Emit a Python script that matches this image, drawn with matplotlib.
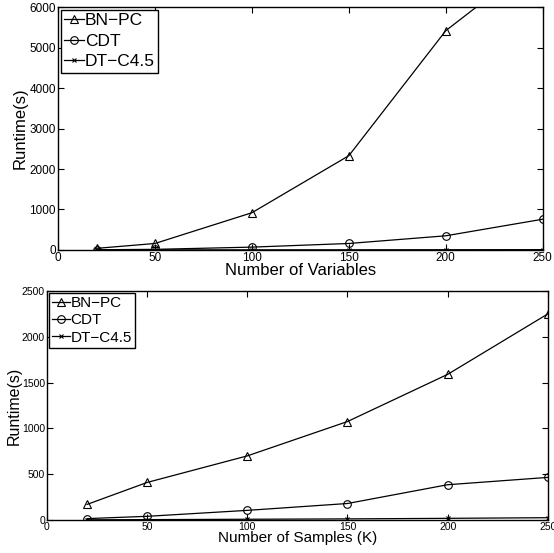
import numpy as np
import matplotlib
matplotlib.use("Agg")
import matplotlib.pyplot as plt

plt.rcParams['font.family'] = ['Liberation Sans', 'DejaVu Sans']

x_vals = [20, 50, 100, 150, 200, 250]

# top: runtime vs number of variables
var_bnpc = [40, 160, 920, 2330, 5420, 7270]
var_cdt = [5, 15, 70, 160, 350, 760]
var_dt = [1, 2, 3, 4, 6, 8]

# bottom: runtime vs number of samples (K)
smp_bnpc = [170, 410, 700, 1075, 1590, 2250]
smp_cdt = [15, 40, 105, 180, 385, 465]
smp_dt = [2, 4, 8, 12, 18, 25]

series_names = ['BN\u2212PC', 'CDT', 'DT\u2212C4.5']
markers = ['^', 'o', 'x']


def panel(ax, ys, ylim, yticks, xlabel, tick_fs, lab_fs, leg_fs, ylpad, lsp):
    for y, name, m in zip(ys, series_names, markers):
        ax.plot(x_vals, y, color='black', lw=0.9, marker=m,
                markersize=5.5 if m != 'x' else 3.5, markerfacecolor='none',
                markeredgewidth=0.8, label=name)
    ax.set_xlim(0, 250)
    ax.set_ylim(*ylim)
    ax.set_xticks(np.arange(0, 251, 50))
    ax.set_yticks(yticks)
    ax.tick_params(direction='in', top=True, right=True, length=4,
                   width=0.8, labelsize=tick_fs, pad=1.5)
    for s in ax.spines.values():
        s.set_linewidth(1.0)
    ax.set_xlabel(xlabel, fontsize=lab_fs, labelpad=-1)
    ax.set_ylabel('Runtime(s)', fontsize=lab_fs, labelpad=ylpad)
    leg = ax.legend(loc='upper left', fontsize=leg_fs, fancybox=False,
                    framealpha=1, edgecolor='black', borderpad=0.2,
                    labelspacing=lsp, handlelength=1.15, handletextpad=0.05,
                    borderaxespad=0.15)
    leg.get_frame().set_linewidth(1.0)


fig = plt.figure(figsize=(5.54, 5.53), dpi=100)
ax1 = fig.add_axes([0.1047, 0.548, 0.875, 0.439])
ax2 = fig.add_axes([0.0848, 0.0597, 0.904, 0.414])

panel(ax1, [var_bnpc, var_cdt, var_dt], (0, 6000), np.arange(0, 6001, 1000),
      'Number of Variables', 8.5, 12, 12.5, 1, 0.3)
panel(ax2, [smp_bnpc, smp_cdt, smp_dt], (0, 2500), np.arange(0, 2501, 500),
      'Number of Samples (K)', 7.5, 11, 11, 0, 0.2)
ax2.yaxis.label.set_size(11.5)

fig.savefig('out.png', dpi=100, facecolor='white')
